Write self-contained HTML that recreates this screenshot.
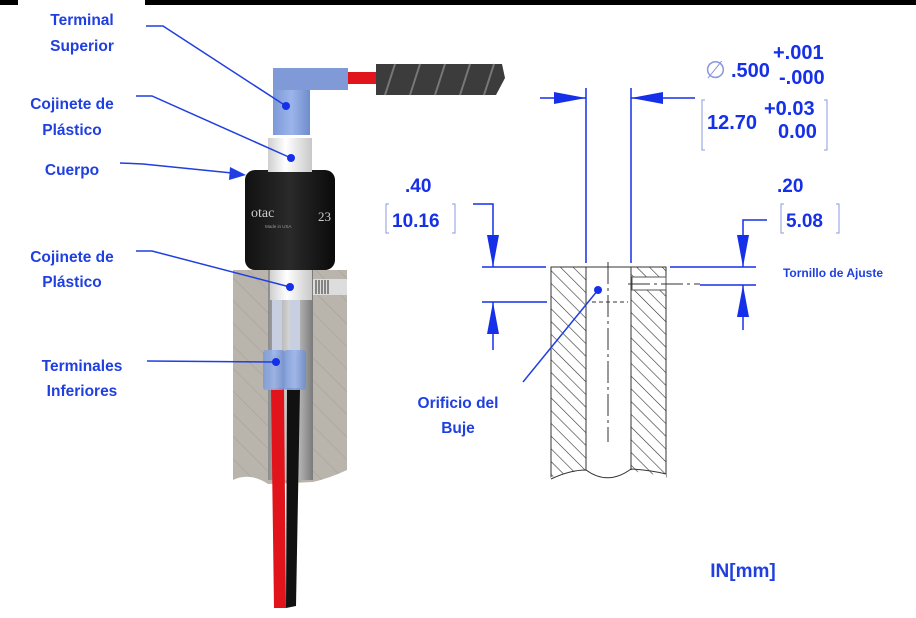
<!DOCTYPE html>
<html><head><meta charset="utf-8"><style>
html,body{margin:0;padding:0;background:#fff;width:916px;height:618px;overflow:hidden}
svg{display:block}
.l{font-family:"Liberation Sans",sans-serif;font-weight:bold;fill:#1f3fe0;font-size:15.5px;text-anchor:middle}
.d{font-family:"Liberation Sans",sans-serif;font-weight:bold;fill:#1530e8;}
</style></head><body>
<svg width="916" height="618" viewBox="0 0 916 618" xmlns="http://www.w3.org/2000/svg">
<defs>
<pattern id="h" width="9" height="9" patternUnits="userSpaceOnUse" patternTransform="rotate(-45)">
<rect width="9" height="9" fill="#fff"/><line x1="0" y1="0" x2="0" y2="9" stroke="#333" stroke-width="1.2"/></pattern>
<pattern id="g" width="16" height="16" patternUnits="userSpaceOnUse" patternTransform="rotate(-45)">
<rect width="16" height="16" fill="#b9b4ac"/><line x1="0" y1="0" x2="0" y2="16" stroke="#a39e96" stroke-width="1"/></pattern>
<linearGradient id="bk" x1="0" x2="1"><stop offset="0" stop-color="#111"/><stop offset=".5" stop-color="#2a2a2a"/><stop offset="1" stop-color="#0a0a0a"/></linearGradient>
<linearGradient id="wh" x1="0" x2="1"><stop offset="0" stop-color="#cfcfcf"/><stop offset=".4" stop-color="#fff"/><stop offset="1" stop-color="#c8c8c8"/></linearGradient>
<linearGradient id="bl" x1="0" x2="1"><stop offset="0" stop-color="#7c9ad8"/><stop offset=".5" stop-color="#9cb4ea"/><stop offset="1" stop-color="#6f8dcc"/></linearGradient>
<linearGradient id="bo" x1="0" x2="1"><stop offset="0" stop-color="#8c8c8c"/><stop offset=".5" stop-color="#d8d8d8"/><stop offset="1" stop-color="#7a7a7a"/></linearGradient>
</defs>
<rect x="0" y="0" width="18" height="5" fill="#000"/><rect x="145" y="0" width="771" height="5" fill="#000"/>

<path d="M233 270 H347 V470 Q330 478 313 482 L268 484 Q250 472 233 480 Z" fill="url(#g)"/>
<rect x="268" y="270" width="45" height="210" fill="url(#bo)"/>
<rect x="313" y="279" width="34" height="16" fill="#ddd"/>
<g stroke="#666" stroke-width="1.5"><line x1="316" y1="280" x2="316" y2="294"/><line x1="319" y1="280" x2="319" y2="294"/><line x1="322" y1="280" x2="322" y2="294"/><line x1="325" y1="280" x2="325" y2="294"/><line x1="328" y1="280" x2="328" y2="294"/></g>
<rect x="270" y="268" width="42" height="32" fill="url(#wh)"/>
<rect x="272" y="300" width="10" height="55" fill="#c7cfe0"/><rect x="290" y="300" width="10" height="55" fill="#c7cfe0"/>
<path d="M271 388 L284 388 L286 608 L274 608 Z" fill="#e0141a"/>
<path d="M287 388 L300 388 L296 606 L286 608 Z" fill="#111"/>
<rect x="263" y="350" width="22" height="40" rx="3" fill="url(#bl)" opacity=".9"/>
<rect x="284" y="350" width="22" height="40" rx="3" fill="url(#bl)" opacity=".9"/>
<rect x="245" y="170" width="90" height="100" rx="10" fill="url(#bk)"/>
<text x="251" y="217" font-family="Liberation Serif,serif" font-size="14" fill="#ccc">otac</text>
<text x="318" y="221" font-family="Liberation Serif,serif" font-size="13" fill="#ccc">23</text>
<text x="265" y="228" font-family="Liberation Sans,sans-serif" font-size="4.5" fill="#999">Made in USA</text>
<rect x="268" y="138" width="44" height="34" fill="url(#wh)"/>
<rect x="273" y="68" width="37" height="67" fill="url(#bl)"/>
<rect x="273" y="68" width="75" height="22" fill="#7f9ad6"/>
<rect x="348" y="72" width="30" height="12" fill="#e0141a"/>
<path d="M376 64 L502 64 L505 78 L496 95 L376 95 Z" fill="#3c3c3c"/>
<g stroke="#777" stroke-width="2"><line x1="395" y1="64" x2="385" y2="95"/><line x1="420" y1="64" x2="410" y2="95"/><line x1="445" y1="64" x2="435" y2="95"/><line x1="470" y1="64" x2="460" y2="95"/><line x1="494" y1="64" x2="484" y2="95"/></g>

<text class="l" x="82" y="25">Terminal</text><text class="l" x="82" y="51">Superior</text>
<text class="l" x="72" y="109">Cojinete de</text><text class="l" x="72" y="135">Plástico</text>
<text class="l" x="72" y="175">Cuerpo</text>
<text class="l" x="72" y="262">Cojinete de</text><text class="l" x="72" y="287">Plástico</text>
<text class="l" x="82" y="371">Terminales</text><text class="l" x="82" y="396">Inferiores</text>
<text class="l" x="458" y="408">Orificio del</text><text class="l" x="458" y="433">Buje</text>
<text class="l" x="833" y="277" style="font-size:12px">Tornillo de Ajuste</text>
<text class="l" x="743" y="577" style="font-size:19px">IN[mm]</text>

<!-- section drawing -->
<rect x="551" y="267" width="35" height="210" fill="url(#h)" stroke="#333"/>
<rect x="631" y="267" width="35" height="210" fill="url(#h)" stroke="#333"/>
<rect x="632" y="277" width="34" height="13" fill="#fff" stroke="#555" stroke-width="1"/>
<path d="M551 477 Q570 472 586 470 Q608 485 631 470 Q648 476 666 474 L666 490 L551 490 Z" fill="#fff"/>
<path d="M551 479 Q570 470 586 470 Q608 486 631 469 Q650 470 666 474" fill="none" stroke="#333"/>
<line x1="586" y1="267" x2="631" y2="267" stroke="#333"/>
<line x1="608" y1="262" x2="608" y2="442" stroke="#333" stroke-dasharray="22,4,3,4"/>
<line x1="592" y1="302" x2="628" y2="302" stroke="#333" stroke-dasharray="4,3"/>
<line x1="628" y1="284" x2="700" y2="284" stroke="#333" stroke-dasharray="22,4,3,4"/>

<!-- leaders -->
<g stroke="#1f3fe0" stroke-width="1.5" fill="none">
<polyline points="146,26 163,26 286,106"/>
<polyline points="136,96 152,96 291,158"/>
<polyline points="120,163 143,164 232,173"/>
<polyline points="136,251 152,251 290,287"/>
<polyline points="147,361 276,362"/>
<polyline points="598,290 523,382"/>
</g>
<path d="M246 175 L230 167 L229 180 Z" fill="#1f3fe0"/>
<g fill="#1530e8"><circle cx="286" cy="106" r="4"/><circle cx="291" cy="158" r="4"/><circle cx="290" cy="287" r="4"/><circle cx="276" cy="362" r="4"/><circle cx="598" cy="290" r="4"/></g>

<g stroke="#1530e8" stroke-width="1.5" fill="none">
<line x1="586" y1="88" x2="586" y2="263"/><line x1="631" y1="88" x2="631" y2="263"/>
<line x1="540" y1="98" x2="586" y2="98"/><line x1="631" y1="98" x2="695" y2="98"/>
<line x1="482" y1="267" x2="546" y2="267"/><line x1="482" y1="302" x2="547" y2="302"/>
<line x1="670" y1="267" x2="756" y2="267"/><line x1="700" y1="285" x2="756" y2="285"/>
<polyline points="473,204 493,204 493,267"/><line x1="493" y1="302" x2="493" y2="350"/>
<polyline points="767,220 743,220 743,267"/><line x1="743" y1="285" x2="743" y2="330"/>
</g>
<g fill="#1530e8">
<path d="M586 98 L554 92 L554 104 Z"/><path d="M631 98 L663 92 L663 104 Z"/>
<path d="M493 267 L487 235 L499 235 Z"/><path d="M493 302 L487 334 L499 334 Z"/>
<path d="M743 267 L737 235 L749 235 Z"/><path d="M743 285 L737 317 L749 317 Z"/>
</g>
<text x="705" y="78" font-family="Liberation Sans,sans-serif" font-size="24" fill="#8898e0">∅</text>
<text class="d" x="731" y="77" font-size="20">.500</text>
<text class="d" x="773" y="59" font-size="20">+.001</text>
<text class="d" x="779" y="84" font-size="20">-.000</text>
<text class="d" x="707" y="129" font-size="20">12.70</text>
<text class="d" x="764" y="115" font-size="20">+0.03</text>
<text class="d" x="778" y="138" font-size="20">0.00</text>
<g stroke="#8898e0" stroke-width="1" fill="none">
<polyline points="705,100 702,100 702,150 705,150"/><polyline points="824,100 827,100 827,150 824,150"/>
<polyline points="389,204 386,204 386,233 389,233"/><polyline points="452,204 455,204 455,233 452,233"/>
<polyline points="784,204 781,204 781,233 784,233"/><polyline points="836,204 839,204 839,233 836,233"/>
</g>
<text class="d" x="405" y="192" font-size="19">.40</text>
<text class="d" x="392" y="227" font-size="19">10.16</text>
<text class="d" x="777" y="192" font-size="19">.20</text>
<text class="d" x="786" y="227" font-size="19">5.08</text>
</svg>
</body></html>
